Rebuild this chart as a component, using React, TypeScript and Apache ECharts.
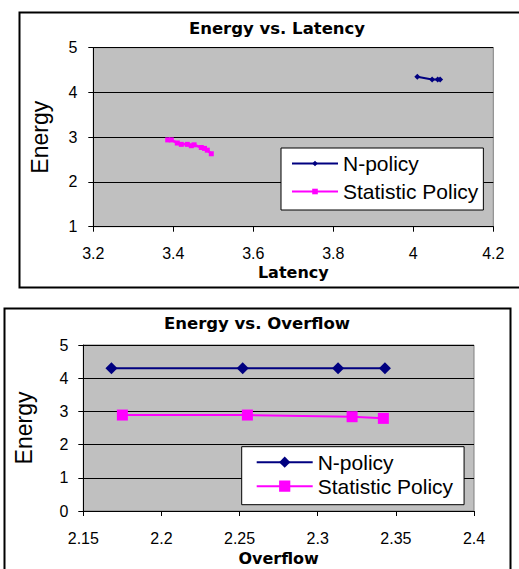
import React, { useEffect, useRef } from "react";
import * as echarts from "echarts";

// ---- Data ----
const seriesNames = ["N-policy", "Statistic Policy"];

// Chart 1: Energy vs. Latency
const latencyN = [4.01, 4.047, 4.061, 4.067];
const energyLatN = [4.35, 4.29, 4.29, 4.29];
const latencyS = [3.386, 3.395, 3.41, 3.42, 3.435, 3.445, 3.452, 3.47, 3.478, 3.485, 3.495];
const energyLatS = [2.94, 2.94, 2.87, 2.84, 2.84, 2.81, 2.83, 2.77, 2.75, 2.71, 2.63];

// Chart 2: Energy vs. Overflow
const overflowN = [2.168, 2.252, 2.313, 2.343];
const energyOvN = [4.3, 4.3, 4.3, 4.3];
const overflowS = [2.175, 2.255, 2.322, 2.342];
const energyOvS = [2.89, 2.89, 2.84, 2.79];

const titles = ["Energy vs. Latency", "Energy vs. Overflow"];
const xNames = ["Latency", "Overflow"];
const yName = "Energy";

const NAVY = "#000080";
const MAGENTA = "#FF00FF";
const SANS = "'Liberation Sans', Arial, sans-serif";
const BOLD = "'DejaVu Sans', Verdana, sans-serif";

const zip = (xs: number[], ys: number[]) => xs.map((x, i) => [x, ys[i]]);

export default function App() {
  const ref = useRef<HTMLDivElement>(null);

  useEffect(() => {
    if (!ref.current) return;
    const chart = echarts.init(ref.current, undefined, { renderer: "svg" });

    const axisLabel = { color: "#000", fontFamily: SANS, fontSize: 16 };
    const axisLine = { show: true, lineStyle: { color: "#000", width: 1 } };
    const axisTick = { show: true, inside: false, length: 5, lineStyle: { color: "#000" } };
    const xNameStyle = { color: "#000", fontFamily: BOLD, fontWeight: "bold" as const, fontSize: 16 };
    const yNameStyle = { color: "#000", fontFamily: SANS, fontSize: 23 };

    const option: any = {
      animation: false,
      backgroundColor: "#fff",
      grid: [
        {
          left: 93.3, top: 47.7, width: 400, height: 179,
          show: true, backgroundColor: "#C0C0C0", borderColor: "#808080", borderWidth: 1,
        },
        {
          left: 83.3, top: 345, width: 390.7, height: 166,
          show: true, backgroundColor: "#C0C0C0", borderColor: "#808080", borderWidth: 1,
        },
      ],
      xAxis: [
        {
          type: "value", gridIndex: 0, min: 3.2, max: 4.2, interval: 0.2,
          axisLine, axisTick, splitLine: { show: false },
          axisLabel: { ...axisLabel, margin: 19 },
          name: xNames[0], nameLocation: "middle", nameGap: 38, nameTextStyle: xNameStyle,
        },
        {
          type: "value", gridIndex: 1, min: 2.15, max: 2.4, interval: 0.05,
          axisLine, axisTick, splitLine: { show: false },
          axisLabel: { ...axisLabel, margin: 19 },
          name: xNames[1], nameLocation: "middle", nameGap: 39, nameTextStyle: xNameStyle,
        },
      ],
      yAxis: [
        {
          type: "value", gridIndex: 0, min: 1, max: 5, interval: 1,
          axisLine, axisTick,
          splitLine: { show: true, lineStyle: { color: "#000", width: 1 } },
          axisLabel: { ...axisLabel, margin: 16 },
          name: yName, nameLocation: "middle", nameGap: 42, nameTextStyle: yNameStyle,
        },
        {
          type: "value", gridIndex: 1, min: 0, max: 5, interval: 1,
          axisLine, axisTick,
          splitLine: { show: true, lineStyle: { color: "#000", width: 1 } },
          axisLabel: { ...axisLabel, margin: 15 },
          name: yName, nameLocation: "middle", nameGap: 48, nameTextStyle: yNameStyle,
        },
      ],
      legend: [
        {
          orient: "vertical", left: 281, top: 148,
          data: seriesNames, selectedMode: false,
          itemWidth: 46, itemHeight: 7, itemGap: 7,
          padding: [5, 5, 8, 10],
          backgroundColor: "#fff", borderColor: "#000", borderWidth: 1,
          textStyle: { color: "#000", fontFamily: SANS, fontSize: 21 },
        },
        {
          orient: "vertical", left: 241.7, top: 446.7,
          data: seriesNames, selectedMode: false,
          itemWidth: 56, itemHeight: 14, itemGap: 3,
          padding: [5, 11, 8, 14],
          backgroundColor: "#fff", borderColor: "#000", borderWidth: 1,
          textStyle: { color: "#000", fontFamily: SANS, fontSize: 21 },
        },
      ],
      series: [
        {
          name: seriesNames[0], type: "line", xAxisIndex: 0, yAxisIndex: 0,
          data: zip(latencyN, energyLatN),
          symbol: "diamond", symbolSize: 6,
          lineStyle: { color: NAVY, width: 2 }, itemStyle: { color: NAVY },
        },
        {
          name: seriesNames[1], type: "line", xAxisIndex: 0, yAxisIndex: 0,
          data: zip(latencyS, energyLatS),
          symbol: "rect", symbolSize: 5,
          lineStyle: { color: MAGENTA, width: 2.5 }, itemStyle: { color: MAGENTA },
        },
        {
          name: seriesNames[0], type: "line", xAxisIndex: 1, yAxisIndex: 1,
          data: zip(overflowN, energyOvN),
          symbol: "diamond", symbolSize: 12,
          lineStyle: { color: NAVY, width: 2 }, itemStyle: { color: NAVY },
        },
        {
          name: seriesNames[1], type: "line", xAxisIndex: 1, yAxisIndex: 1,
          data: zip(overflowS, energyOvS),
          symbol: "rect", symbolSize: 11,
          lineStyle: { color: MAGENTA, width: 2 }, itemStyle: { color: MAGENTA },
        },
      ],
      graphic: [
        {
          type: "rect", z: -1, silent: true,
          shape: { x: 19.5, y: 12.5, width: 510, height: 275 },
          style: { fill: "none", stroke: "#000", lineWidth: 2 },
        },
        {
          type: "rect", z: -1, silent: true,
          shape: { x: 4.5, y: 308.5, width: 506, height: 280 },
          style: { fill: "none", stroke: "#000", lineWidth: 2 },
        },
        {
          type: "text", x: 277, y: 28,
          style: {
            text: titles[0], fill: "#000", align: "center", verticalAlign: "middle",
            font: `bold 16.5px ${BOLD}`,
          },
        },
        {
          type: "text", x: 257, y: 323.5,
          style: {
            text: titles[1], fill: "#000", align: "center", verticalAlign: "middle",
            font: `bold 16.5px ${BOLD}`,
          },
        },
      ],
    };

    chart.setOption(option);
    return () => chart.dispose();
  }, []);

  return (
    <div
      ref={ref}
      style={{ position: "fixed", left: 0, top: 0, width: 519, height: 569 }}
    />
  );
}
